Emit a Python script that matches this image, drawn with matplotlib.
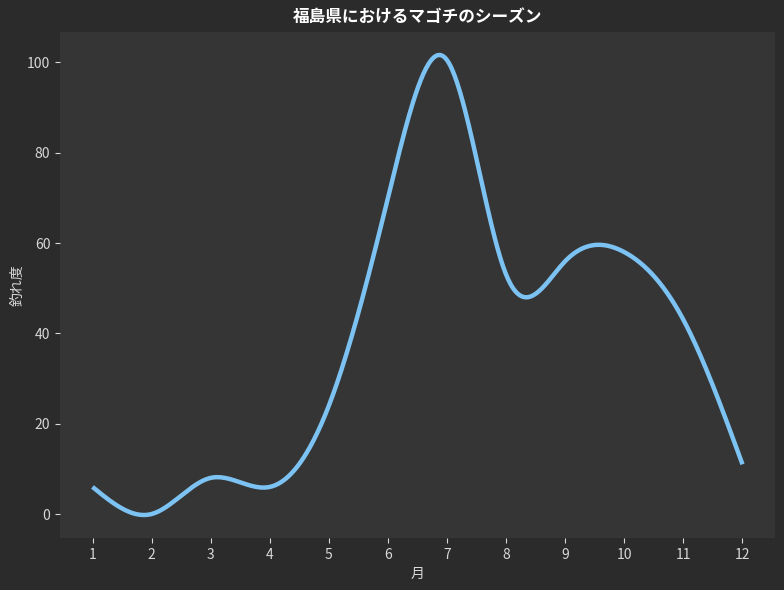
import numpy as np
import matplotlib
matplotlib.use("Agg")
import matplotlib.pyplot as plt

plt.rcParams['font.family'] = ['Noto Sans CJK JP', 'DejaVu Sans']

months = [1, 2, 3, 4, 5, 6, 7, 8, 9, 10, 11, 12]
catch = [6, 0, 8, 6, 24, 70, 100.5, 53, 56, 58, 43, 11]
title = "福島県におけるマゴチのシーズン"
xlabel = "月"
ylabel = "釣れ度"


def natural_spline(x, y, xs):
    x = np.asarray(x, float)
    y = np.asarray(y, float)
    n = len(x)
    h = np.diff(x)
    A = np.zeros((n, n))
    b = np.zeros(n)
    A[0, 0] = 1.0
    A[-1, -1] = 1.0
    for i in range(1, n - 1):
        A[i, i - 1] = h[i - 1]
        A[i, i] = 2 * (h[i - 1] + h[i])
        A[i, i + 1] = h[i]
        b[i] = 6 * ((y[i + 1] - y[i]) / h[i] - (y[i] - y[i - 1]) / h[i - 1])
    M = np.linalg.solve(A, b)
    idx = np.clip(np.searchsorted(x, xs) - 1, 0, n - 2)
    x0, x1 = x[idx], x[idx + 1]
    hh = x1 - x0
    t0 = x1 - xs
    t1 = xs - x0
    return (M[idx] * t0 ** 3 / (6 * hh) + M[idx + 1] * t1 ** 3 / (6 * hh)
            + (y[idx] / hh - M[idx] * hh / 6) * t0
            + (y[idx + 1] / hh - M[idx + 1] * hh / 6) * t1)


xs = np.linspace(min(months), max(months), 500)
ys = natural_spline(months, catch, xs)

fig = plt.figure(figsize=(7.84, 5.9), dpi=100)
fig.patch.set_facecolor('#2b2b2b')
ax = fig.add_axes([60 / 784, 52 / 590, 715 / 784, 506 / 590])
ax.set_facecolor('#353535')
ax.plot(xs, ys, color='#7cc3f3', lw=3.2, solid_capstyle='butt')

for s in ax.spines.values():
    s.set_visible(False)
ax.set_xticks(months)
ax.tick_params(colors='#d8d8d8', labelsize=10, length=3.5, width=0.8)
ax.set_xlabel(xlabel, color='#d8d8d8', fontsize=10)
ax.set_ylabel(ylabel, color='#d8d8d8', fontsize=10, labelpad=2)
ax.set_title(title, color='white', fontsize=12, fontweight='bold', pad=7)

fig.savefig('out.png', dpi=100, facecolor=fig.get_facecolor())
